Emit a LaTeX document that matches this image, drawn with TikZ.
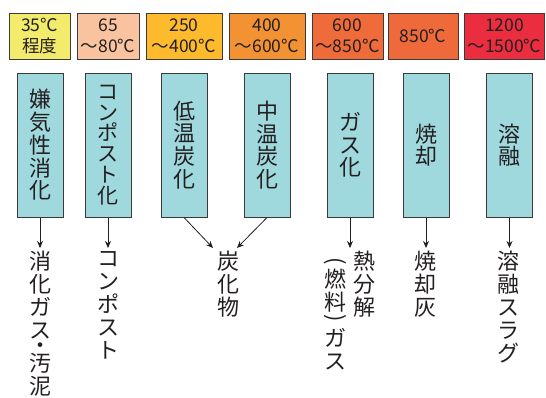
\documentclass[tikz,border=0pt]{standalone}
\usepackage{fontspec}
\usepackage{graphicx}
\setmainfont{Noto Sans CJK JP}
\usetikzlibrary{arrows.meta}
\definecolor{boxline}{HTML}{3A3A3A}
\definecolor{arrowc}{HTML}{231F20}
\definecolor{cyanfill}{HTML}{9FD9DD}
\definecolor{tA}{HTML}{F2EB6B}
\definecolor{tB}{HTML}{F9C39F}
\definecolor{tC}{HTML}{FDBA2C}
\definecolor{tD}{HTML}{F39233}
\definecolor{tE}{HTML}{EF6B3A}
\definecolor{tF}{HTML}{EF6A3B}
\definecolor{tG}{HTML}{EA2E3F}
\newcommand{\vparopen}{\smash{\rotatebox{-90}{(}}}
\newcommand{\vparclose}{\smash{\rotatebox{-90}{)}}}
\begin{document}
\begin{tikzpicture}[x=1pt,y=-1pt,
  tbox/.style={draw=boxline, line width=1pt, minimum height=46pt, inner sep=0pt, align=center, text=arrowc, font=\fontsize{17.5}{21}\selectfont},
  pbox/.style={draw=boxline, line width=1pt, fill=cyanfill, minimum width=46pt, minimum height=144pt, inner sep=0pt, align=center, text=arrowc, font=\fontsize{22}{22.7}\selectfont},
  vtext/.style={anchor=north, inner sep=0pt, align=center, text=arrowc, font=\fontsize{22}{23}\selectfont},
  arr/.style={-{Stealth[length=7pt,width=6pt]}, line width=0.8pt, draw=arrowc}]
\useasboundingbox (0,0) rectangle (546,397);
% temperature boxes
\node[tbox, fill=tA, minimum width=61pt] (t1) at (39.5,36) {35℃\\程度};
\node[tbox, fill=tB, minimum width=62pt] (t2) at (108,36) {65\\～80℃};
\node[tbox, fill=tC, minimum width=76pt] (t3) at (184,36) {250\\～400℃};
\node[tbox, fill=tD, minimum width=76pt] (t4) at (267,36) {400\\～600℃};
\node[tbox, fill=tE, minimum width=71pt] (t5) at (347.5,36) {600\\～850℃};
\node[tbox, fill=tF, minimum width=70pt] (t6) at (423,36) {850℃};
\node[tbox, fill=tG, minimum width=80pt] (t7) at (504.5,36) {1200\\～1500℃};
% process boxes
\node[pbox] (p1) at (40,145) {嫌\\気\\性\\消\\化};
\node[pbox, font=\fontsize{21}{20.8}\selectfont] (p2) at (108,145) {コ\\ン\\ポ\\ス\\ト\\化};
\node[pbox] (p3) at (184,145) {低\\温\\炭\\化};
\node[pbox] (p4) at (267,145) {中\\温\\炭\\化};
\node[pbox] (p5) at (350,145) {ガ\\ス\\化};
\node[pbox] (p6) at (426,145) {焼\\却};
\node[pbox] (p7) at (509.5,145) {溶\\融};
% arrow ends
\coordinate (e1) at (40,248);
\coordinate (e2) at (108,248);
\coordinate (e3) at (213,248);
\coordinate (e4) at (237,248);
\coordinate (e5) at (350,248);
\coordinate (e6) at (426,248);
\coordinate (e7) at (509.5,248);
\draw[arr] (p1.south) -- (e1);
\draw[arr] (p2.south) -- (e2);
\draw[arr] (p3.south) -- (e3);
\draw[arr] (p4.south) -- (e4);
\draw[arr] (p5.south) -- (e5);
\draw[arr] (p6.south) -- (e6);
\draw[arr] (p7.south) -- (e7);
% products
\node[vtext] (r1) at (40,251) {消\\化\\ガ\\ス\\[-8.5pt]・\\[-4.5pt]汚\\泥};
\node[vtext] (r2) at (108,251) {コ\\ン\\ポ\\ス\\ト};
\node[vtext] (r3) at (228,251) {炭\\化\\物};
\node[vtext] (r5a) at (364,251) {熱\\分\\解};
\node[vtext] (r5b) at (335,257) {\vparopen\\[7pt]燃\\料\\[-19pt]\vparclose\\[9pt]ガ\\ス};
\node[vtext] (r6) at (425,251) {焼\\却\\灰};
\node[vtext] (r7) at (508,251) {溶\\融\\ス\\ラ\\グ};
\end{tikzpicture}
\end{document}
